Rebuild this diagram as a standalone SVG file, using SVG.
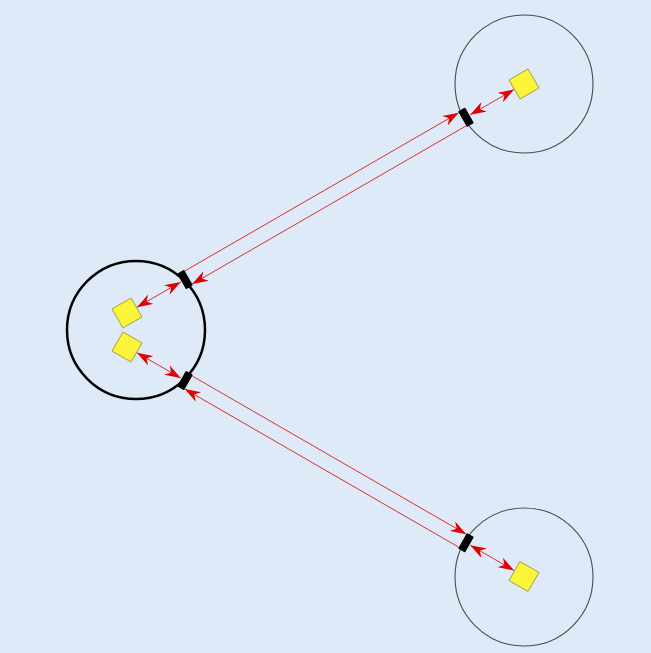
<svg xmlns="http://www.w3.org/2000/svg" width="651" height="653" viewBox="0 0 651 653">
  <defs>
    <marker id="ah" viewBox="0 0 16 11" markerWidth="16" markerHeight="11" refX="16" refY="5.5" orient="auto-start-reverse" markerUnits="userSpaceOnUse">
      <path d="M0,0 L16,5.5 L0,11 L5,5.5 z" fill="#e00000"/>
    </marker>
  </defs>
  <style>
    .bg { fill: #dfeaf9; }
    .big { fill: none; stroke: #000; stroke-width: 2.5; }
    .small { fill: none; stroke: #4a4a4a; stroke-width: 1.1; }
    .sq { fill: #fbf53a; stroke: #9a9440; stroke-width: 0.8; }
    .port { fill: #000; }
    .link { fill: none; stroke: #d83030; stroke-width: 1; }
    .one { marker-end: url(#ah); }
    .two { marker-start: url(#ah); marker-end: url(#ah); }
  </style>
  <rect class="bg" x="0" y="0" width="651" height="653"/>

  <g id="connectors">
    <line class="link one" x1="184.74" y1="271.0" x2="458.75" y2="112.8"/>
    <line class="link one" x1="466.25" y1="125.8" x2="192.24" y2="284.0"/>
    <line class="link one" x1="192.24" y1="376.0" x2="466.25" y2="534.2"/>
    <line class="link one" x1="458.75" y1="547.2" x2="184.74" y2="389.0"/>
    <line class="link two" x1="136.96" y1="307.25" x2="180.7" y2="282.0"/>
    <line class="link two" x1="470.3" y1="114.8" x2="514.0" y2="89.55"/>
    <line class="link two" x1="136.96" y1="352.75" x2="180.7" y2="378.0"/>
    <line class="link two" x1="470.3" y1="545.2" x2="514.0" y2="570.45"/>
  </g>

  <g id="node-left">
    <circle class="big" cx="136" cy="330" r="69"/>
    <g id="item-left-top"><rect class="sq" x="-11" y="-11" width="22" height="22" transform="translate(127,313) rotate(-30)"/></g>
    <g id="item-left-bottom"><rect class="sq" x="-11" y="-11" width="22" height="22" transform="translate(127,347) rotate(30)"/></g>
    <g id="port-left-top"><rect class="port" x="-4" y="-9" width="8" height="18" rx="1" transform="translate(185,279.5) rotate(-30)"/></g>
    <g id="port-left-bottom"><rect class="port" x="-4" y="-9" width="8" height="18" rx="1" transform="translate(185,380.5) rotate(30)"/></g>
  </g>

  <g id="node-top-right">
    <circle class="small" cx="524" cy="84" r="69"/>
    <g id="item-top-right"><rect class="sq" x="-11" y="-11" width="22" height="22" transform="translate(524,84) rotate(-30)"/></g>
    <g id="port-top-right"><rect class="port" x="-4" y="-9" width="8" height="18" rx="1" transform="translate(466,117.3) rotate(-30)"/></g>
  </g>

  <g id="node-bottom-right">
    <circle class="small" cx="524" cy="577" r="69"/>
    <g id="item-bottom-right"><rect class="sq" x="-11" y="-11" width="22" height="22" transform="translate(524,576.5) rotate(30)"/></g>
    <g id="port-bottom-right"><rect class="port" x="-4" y="-9" width="8" height="18" rx="1" transform="translate(466,542.7) rotate(30)"/></g>
  </g>
</svg>
